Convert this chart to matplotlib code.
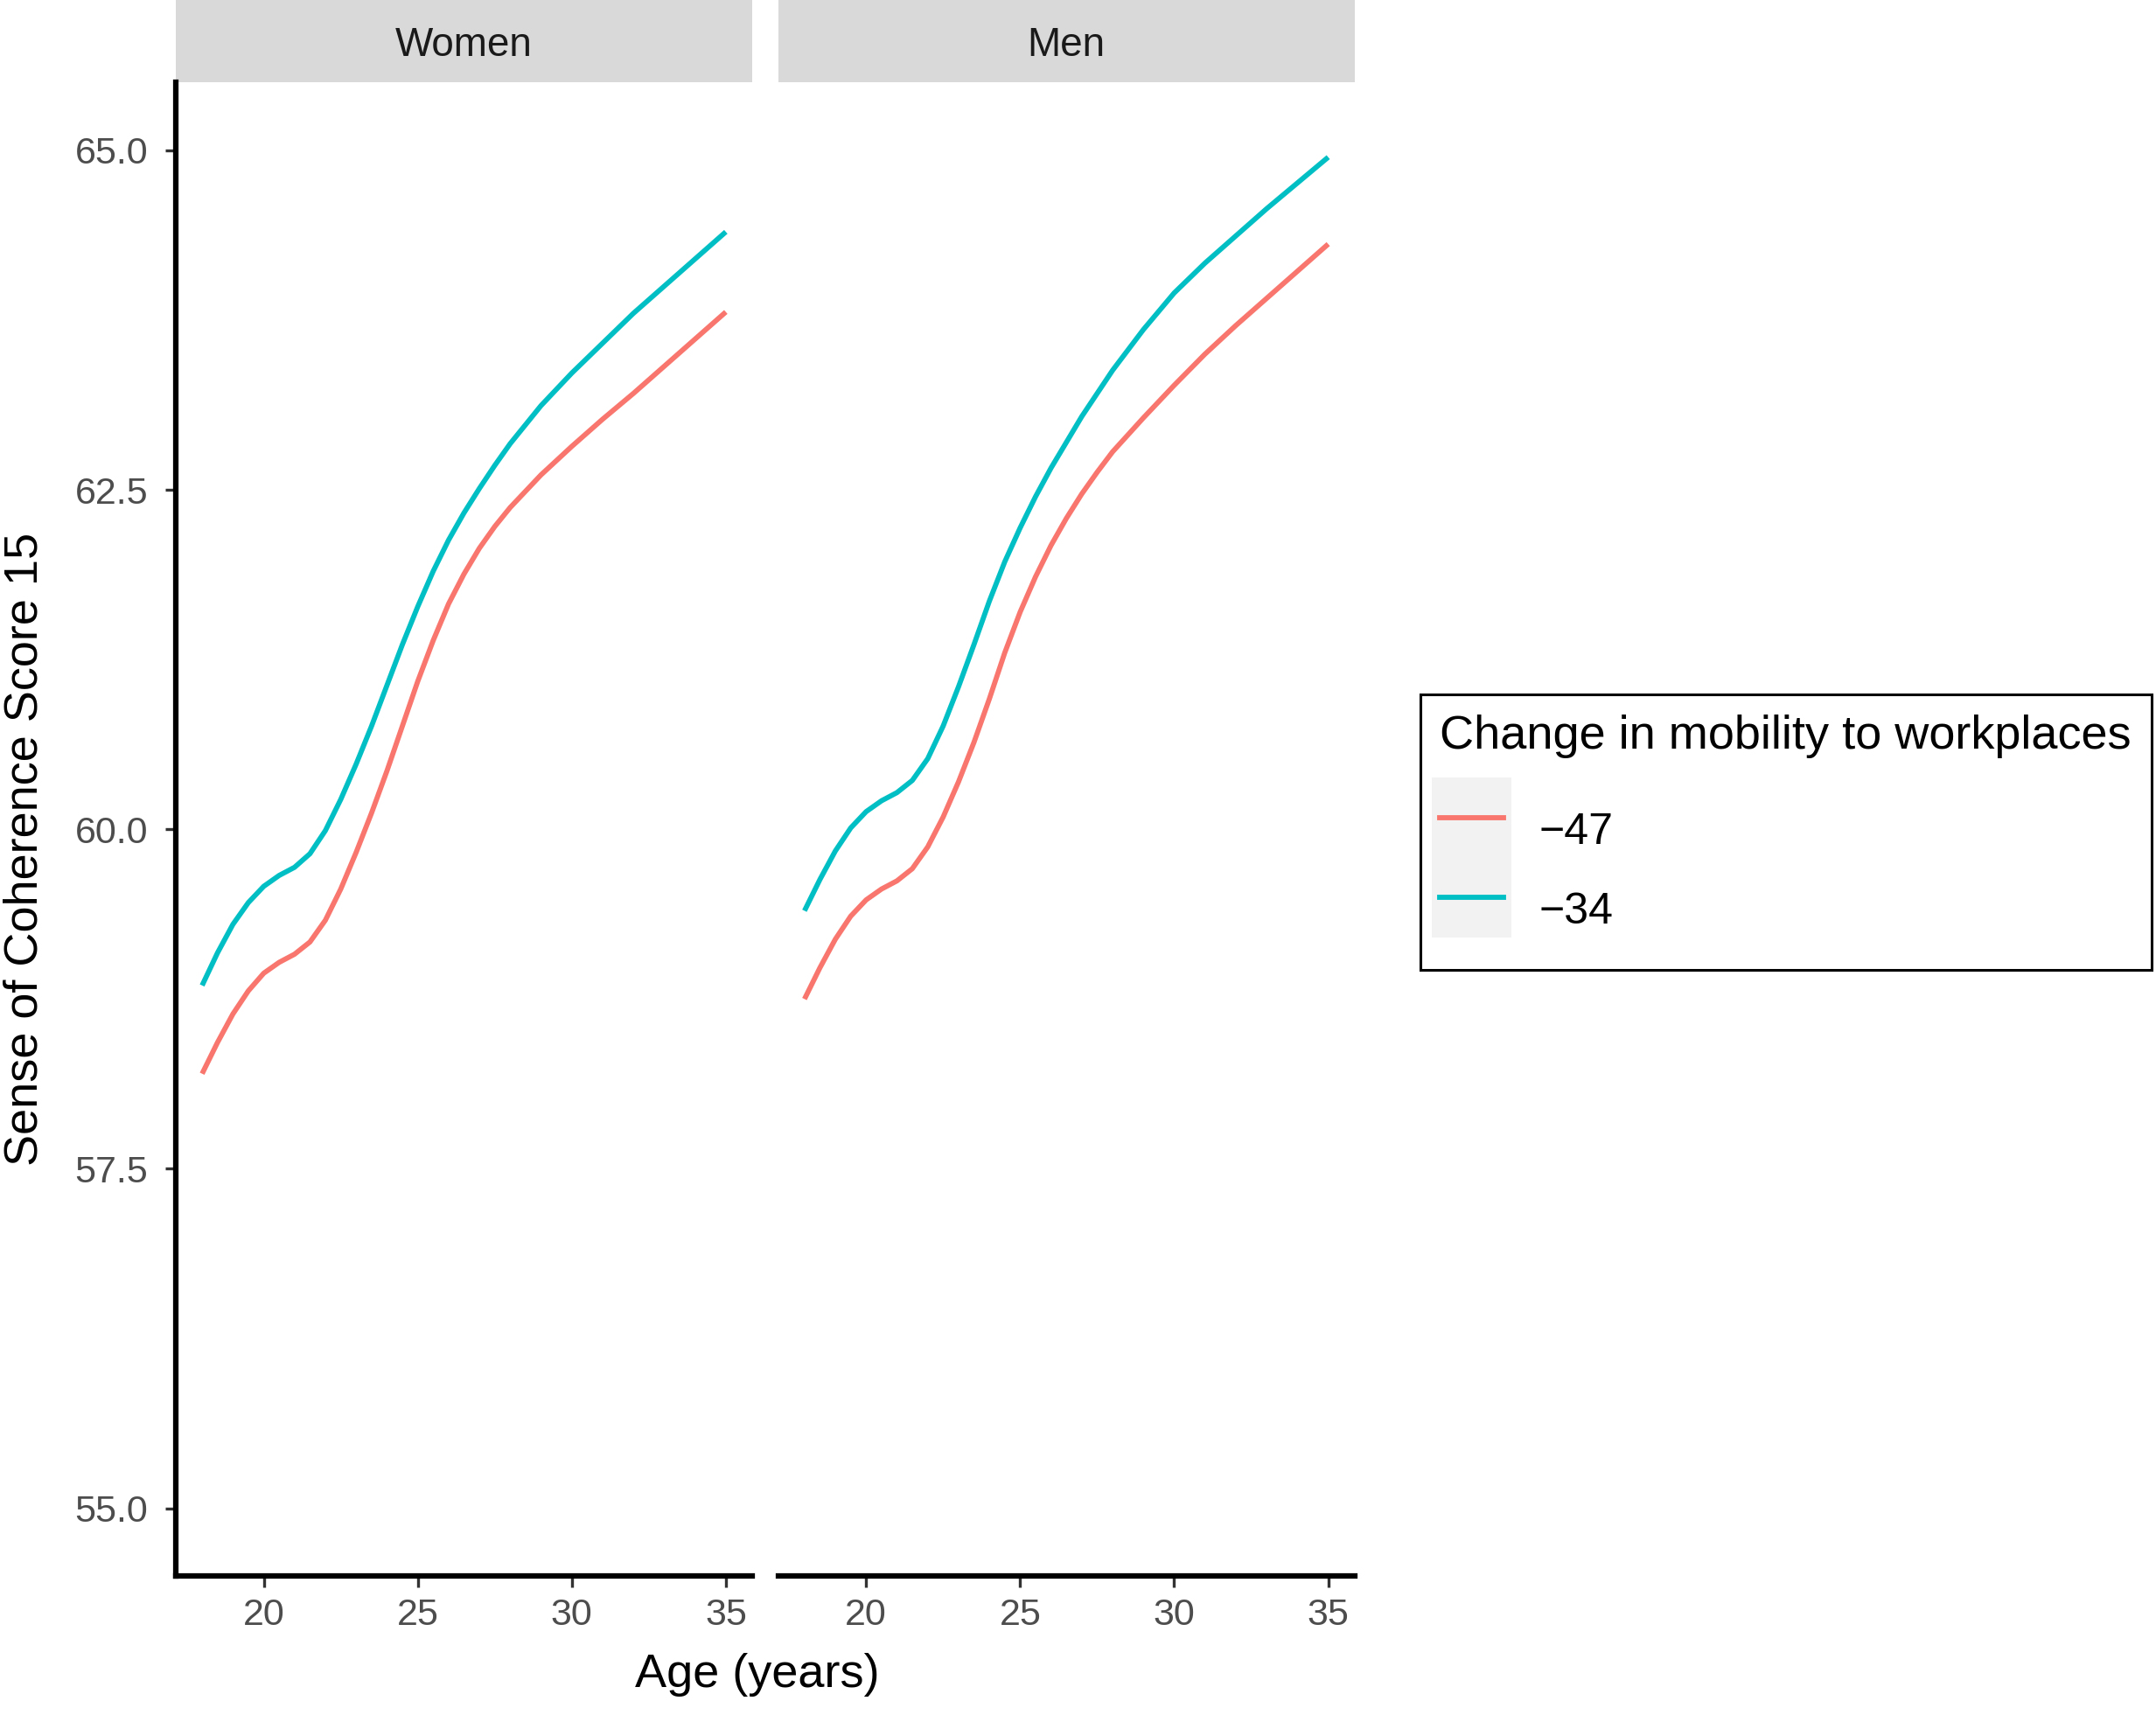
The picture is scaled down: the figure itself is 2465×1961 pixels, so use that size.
import matplotlib
matplotlib.use('Agg')
from matplotlib import pyplot as plt
from matplotlib.lines import Line2D
from matplotlib.patches import Rectangle
from matplotlib.ticker import FormatStrFormatter

plt.rcParams['font.family'] = ['Liberation Sans', 'DejaVu Sans']

# values (smoothed predictions)
age = [18, 18.5, 19, 19.5, 20, 20.5, 21, 21.5, 22, 22.5, 23, 23.5, 24, 24.5,
       25, 25.5, 26, 26.5, 27, 27.5, 28, 29, 30, 31, 32, 33, 34, 35]
women_m47 = [58.20, 58.43, 58.64, 58.81, 58.94, 59.02, 59.08, 59.17, 59.33, 59.56, 59.83, 60.12, 60.43, 60.76,
             61.09, 61.39, 61.66, 61.88, 62.07, 62.23, 62.37, 62.61, 62.82, 63.02, 63.21, 63.41, 63.61, 63.81]
women_m34 = [58.85, 59.09, 59.30, 59.46, 59.58, 59.66, 59.72, 59.82, 59.99, 60.22, 60.48, 60.76, 61.06, 61.36,
             61.64, 61.90, 62.13, 62.33, 62.51, 62.68, 62.84, 63.12, 63.36, 63.58, 63.80, 64.00, 64.20, 64.40]
men_m47 = [58.75, 58.98, 59.19, 59.36, 59.48, 59.56, 59.62, 59.71, 59.87, 60.09, 60.35, 60.64, 60.96, 61.30,
           61.60, 61.86, 62.09, 62.29, 62.47, 62.63, 62.78, 63.03, 63.27, 63.50, 63.71, 63.91, 64.11, 64.31]
men_m34 = [59.40, 59.63, 59.84, 60.01, 60.13, 60.21, 60.27, 60.36, 60.52, 60.76, 61.05, 61.36, 61.68, 61.97,
           62.22, 62.45, 62.66, 62.85, 63.04, 63.21, 63.38, 63.68, 63.95, 64.17, 64.37, 64.57, 64.76, 64.95]

panels = ['Women', 'Men']
levels = ['\u221247', '\u221234']
colors = ['#F8766D', '#00BFC4']
x_ticks = [20, 25, 30, 35]
y_ticks = [55.0, 57.5, 60.0, 62.5, 65.0]

series = {'Women': [women_m47, women_m34], 'Men': [men_m47, men_m34]}

fig = plt.figure(figsize=(24.65, 19.61), dpi=100)

lefts = [0.0816, 0.361]
pw, pb, ph = 0.2672, 0.081, 0.8709
strip_h = 0.0484 / ph

axes = []
for i, name in enumerate(panels):
    ax = fig.add_axes([lefts[i], pb, pw, ph], sharey=axes[0] if axes else None)
    axes.append(ax)
    for ys, c in zip(series[name], colors):
        ax.plot(age, ys, color=c, lw=4.2, solid_capstyle='butt', solid_joinstyle='round')
    ax.set_xlim(18 - 0.85, 35 + 0.85)
    ax.set_ylim(55 - 0.5, 65 + 0.5)
    ax.set_xticks(x_ticks)
    ax.set_yticks(y_ticks)
    ax.yaxis.set_major_formatter(FormatStrFormatter('%.1f'))
    for s in ['top', 'right']:
        ax.spines[s].set_visible(False)
    ax.spines['bottom'].set_linewidth(4.5)
    ax.spines['left'].set_linewidth(4.5)
    ax.tick_params(axis='both', length=9, width=2.4, color='#333333',
                   labelcolor='#4D4D4D', labelsize=31)
    ax.tick_params(axis='y', pad=14)
    ax.tick_params(axis='x', pad=9)
    # facet strip
    ax.add_patch(Rectangle((0, 1), 1, strip_h, transform=ax.transAxes,
                           facecolor='#D9D9D9', edgecolor='none', clip_on=False))
    ax.text(0.5, 1 + strip_h * 0.50, name, transform=ax.transAxes, ha='center',
            va='center_baseline', fontsize=33, color='#1A1A1A')

axes[1].spines['left'].set_visible(False)
axes[1].tick_params(axis='y', left=False, labelleft=False)

fig.text(0.3514, 0.0233, 'Age (years)', ha='center', va='center', fontsize=39)
fig.text(0.0115, 0.5048, 'Sense of Coherence Score 15', rotation=90,
         ha='center', va='center', fontsize=39)

leg_fs = 36
hh = 2.43
handles = [Line2D([], [], color=c, lw=4.2) for c in colors]
leg = fig.legend(handles, levels, title='Change in mobility to workplaces',
                 loc='upper left', bbox_to_anchor=(0.6588, 0.595),
                 fontsize=leg_fs, title_fontsize=39, frameon=True, fancybox=False,
                 edgecolor='black', facecolor='none', framealpha=1,
                 handlelength=1.45, handleheight=hh, handletextpad=0.82,
                 labelspacing=0.0, borderpad=0.45, borderaxespad=0, alignment='left')
leg.get_frame().set_linewidth(2.2)
leg._legend_box.sep = 27

# grey key background behind the legend lines
fig.canvas.draw()
r = fig.canvas.get_renderer()
bbs = [h.get_window_extent(r) for h in leg.legend_handles]
W, H = fig.bbox.width, fig.bbox.height
row_h = (leg_fs * hh - 0.35 * leg_fs * (hh - 0.7)) * fig.dpi / 72
kx0 = min(b.x0 for b in bbs) - 9.4
kx1 = max(b.x1 for b in bbs) + 9.4
yc = [(b.y0 + b.y1) / 2 for b in bbs]
ky0 = min(yc) - row_h / 2
ky1 = max(yc) + row_h / 2
fig.patches.append(Rectangle((kx0 / W, ky0 / H), (kx1 - kx0) / W, (ky1 - ky0) / H,
                             transform=fig.transFigure, facecolor='#F2F2F2',
                             edgecolor='none', zorder=1))

fig.savefig('out.png', dpi=100)
